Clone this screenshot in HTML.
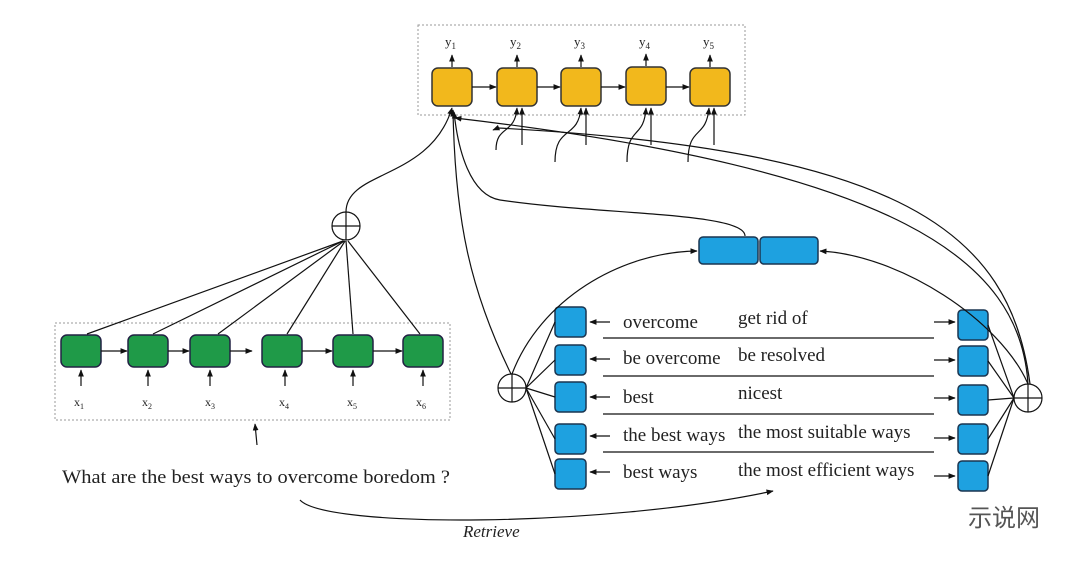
<!DOCTYPE html>
<html><head><meta charset="utf-8"><style>
html,body{margin:0;padding:0;background:#fff}
svg{display:block}
text{font-family:"Liberation Serif",serif;fill:#222}
</style></head><body>
<svg width="1080" height="564" viewBox="0 0 1080 564" xmlns="http://www.w3.org/2000/svg">
<defs>
<marker id="a" viewBox="0 0 10 10" refX="9" refY="5" markerWidth="6" markerHeight="6" orient="auto"><path d="M0,1 L10,5 L0,9 z" fill="#111"/></marker>
</defs>
<g fill="none" stroke="#999" stroke-dasharray="2,2">
<rect x="418" y="25" width="327" height="90"/>
<rect x="55" y="323" width="395" height="97"/>
</g>
<!-- yellow -->
<g stroke="#333" stroke-width="1.5" fill="#f2b81c">
<rect x="432" y="68" width="40" height="38" rx="6"/>
<rect x="497" y="68" width="40" height="38" rx="6"/>
<rect x="561" y="68" width="40" height="38" rx="6"/>
<rect x="626" y="67" width="40" height="38" rx="6"/>
<rect x="690" y="68" width="40" height="38" rx="6"/>
</g>
<g stroke="#111" stroke-width="1.2" fill="none" marker-end="url(#a)">
<line x1="472" y1="87" x2="496" y2="87"/><line x1="537" y1="87" x2="560" y2="87"/>
<line x1="601" y1="87" x2="625" y2="87"/><line x1="666" y1="87" x2="689" y2="87"/>
<line x1="452" y1="67" x2="452" y2="55"/><line x1="517" y1="67" x2="517" y2="55"/>
<line x1="581" y1="67" x2="581" y2="55"/><line x1="646" y1="66" x2="646" y2="54"/>
<line x1="710" y1="67" x2="710" y2="55"/>
<line x1="522" y1="145" x2="522" y2="108"/><line x1="586" y1="145" x2="586" y2="108"/>
<line x1="651" y1="145" x2="651" y2="108"/><line x1="714" y1="145" x2="714" y2="108"/>
<path d="M496,150 C496,125 515,135 517,108"/><path d="M555,162 C555,125 578,140 581,108"/>
<path d="M627,162 C627,125 644,140 646,108"/><path d="M688,162 C688,125 706,140 709,108"/>
</g>
<g font-size="13"><text x="445" y="46">y<tspan font-size="9" dy="3">1</tspan></text>
<text x="510" y="46">y<tspan font-size="9" dy="3">2</tspan></text>
<text x="574" y="46">y<tspan font-size="9" dy="3">3</tspan></text>
<text x="639" y="46">y<tspan font-size="9" dy="3">4</tspan></text>
<text x="703" y="46">y<tspan font-size="9" dy="3">5</tspan></text></g>
<!-- green -->
<g stroke="#224" stroke-width="1.5" fill="#1f9a48">
<rect x="61" y="335" width="40" height="32" rx="6"/><rect x="128" y="335" width="40" height="32" rx="6"/>
<rect x="190" y="335" width="40" height="32" rx="6"/><rect x="262" y="335" width="40" height="32" rx="6"/>
<rect x="333" y="335" width="40" height="32" rx="6"/><rect x="403" y="335" width="40" height="32" rx="6"/>
</g>
<g stroke="#111" stroke-width="1.2" fill="none">
<g marker-end="url(#a)">
<line x1="101" y1="351" x2="127" y2="351"/><line x1="168" y1="351" x2="189" y2="351"/>
<line x1="230" y1="351" x2="252" y2="351"/><line x1="302" y1="351" x2="332" y2="351"/>
<line x1="373" y1="351" x2="402" y2="351"/>
<line x1="81" y1="386" x2="81" y2="370"/><line x1="148" y1="386" x2="148" y2="370"/>
<line x1="210" y1="386" x2="210" y2="370"/><line x1="285" y1="386" x2="285" y2="370"/>
<line x1="353" y1="386" x2="353" y2="370"/><line x1="423" y1="386" x2="423" y2="370"/>
<line x1="257" y1="445" x2="255" y2="424"/>
</g>
<line x1="87" y1="334" x2="343" y2="241"/><line x1="153" y1="334" x2="343" y2="241"/>
<line x1="218" y1="334" x2="344" y2="241"/><line x1="287" y1="334" x2="345" y2="241"/>
<line x1="353" y1="334" x2="346" y2="241"/><line x1="420" y1="334" x2="348" y2="241"/>
<circle cx="346" cy="226" r="14" fill="#fff"/><line x1="332" y1="226" x2="360" y2="226"/><line x1="346" y1="212" x2="346" y2="240"/>
<path d="M346,212 C346,170 430,180 452,108" marker-end="url(#a)"/>
</g>
<g font-size="12"><text x="74" y="406">x<tspan font-size="8" dy="3">1</tspan></text>
<text x="142" y="406">x<tspan font-size="8" dy="3">2</tspan></text>
<text x="205" y="406">x<tspan font-size="8" dy="3">3</tspan></text>
<text x="279" y="406">x<tspan font-size="8" dy="3">4</tspan></text>
<text x="347" y="406">x<tspan font-size="8" dy="3">5</tspan></text>
<text x="416" y="406">x<tspan font-size="8" dy="3">6</tspan></text></g>
<!-- blue -->
<g stroke="#1a3550" stroke-width="1.5" fill="#1ea1e0">
<rect x="699" y="237" width="59" height="27" rx="4"/><rect x="760" y="237" width="58" height="27" rx="4"/>
<rect x="555" y="307" width="31" height="30" rx="4"/><rect x="555" y="345" width="31" height="30" rx="4"/>
<rect x="555" y="382" width="31" height="30" rx="4"/><rect x="555" y="424" width="31" height="30" rx="4"/>
<rect x="555" y="459" width="31" height="30" rx="4"/>
<rect x="958" y="310" width="30" height="30" rx="4"/><rect x="958" y="346" width="30" height="30" rx="4"/>
<rect x="958" y="385" width="30" height="30" rx="4"/><rect x="958" y="424" width="30" height="30" rx="4"/>
<rect x="958" y="461" width="30" height="30" rx="4"/>
</g>
<g stroke="#111" stroke-width="1.2" fill="none">
<line x1="603" y1="338" x2="934" y2="338"/><line x1="603" y1="376" x2="934" y2="376"/>
<line x1="603" y1="414" x2="934" y2="414"/><line x1="603" y1="452" x2="934" y2="452"/>
<g marker-end="url(#a)">
<line x1="610" y1="322" x2="590" y2="322"/><line x1="610" y1="359" x2="590" y2="359"/>
<line x1="610" y1="397" x2="590" y2="397"/><line x1="610" y1="436" x2="590" y2="436"/>
<line x1="610" y1="472" x2="590" y2="472"/>
<line x1="934" y1="322" x2="955" y2="322"/><line x1="934" y1="360" x2="955" y2="360"/>
<line x1="934" y1="398" x2="955" y2="398"/><line x1="934" y1="438" x2="955" y2="438"/>
<line x1="934" y1="476" x2="955" y2="476"/>
<path d="M511,374 C470,290 455,220 453,110"/>
<path d="M512,374 C540,300 620,252 697,251"/>
<path d="M1028,384 C1000,320 900,255 820,251"/>
<path d="M1028,384 C1020,260 900,170 455,118"/>
<path d="M1030,384 C1010,230 900,150 498,128 L493,130"/>
<path d="M745,236 C745,212 600,215 500,200 C470,195 458,150 454,112"/>
<path d="M300,500 C325,528 600,528 773,491"/>
</g>
<line x1="526" y1="388" x2="555" y2="322"/><line x1="526" y1="388" x2="555" y2="360"/>
<line x1="526" y1="388" x2="555" y2="397"/><line x1="526" y1="388" x2="555" y2="439"/>
<line x1="526" y1="388" x2="555" y2="474"/>
<line x1="1014" y1="398" x2="988" y2="325"/><line x1="1014" y1="398" x2="988" y2="361"/>
<line x1="1014" y1="398" x2="988" y2="400"/><line x1="1014" y1="398" x2="988" y2="439"/>
<line x1="1014" y1="398" x2="988" y2="476"/>
<circle cx="512" cy="388" r="14" fill="#fff"/><line x1="498" y1="388" x2="526" y2="388"/><line x1="512" y1="374" x2="512" y2="402"/>
<circle cx="1028" cy="398" r="14" fill="#fff"/><line x1="1014" y1="398" x2="1042" y2="398"/><line x1="1028" y1="384" x2="1028" y2="412"/>
</g>
<g font-size="19">
<text x="623" y="328">overcome</text><text x="738" y="324">get rid of</text>
<text x="623" y="364">be overcome</text><text x="738" y="361">be resolved</text>
<text x="623" y="403">best</text><text x="738" y="399">nicest</text>
<text x="623" y="441">the best ways</text><text x="738" y="438">the most suitable ways</text>
<text x="623" y="478">best ways</text><text x="738" y="476">the most efficient ways</text>
<text x="62" y="483" textLength="388" lengthAdjust="spacingAndGlyphs">What are the best ways to overcome boredom ?</text>
<text x="463" y="537" font-style="italic" font-size="17">Retrieve</text>
</g>
<text x="968" y="526" font-size="24" style="font-family:'Liberation Sans','Noto Sans CJK SC',sans-serif;fill:#555">示说网</text>
</svg>
</body></html>
